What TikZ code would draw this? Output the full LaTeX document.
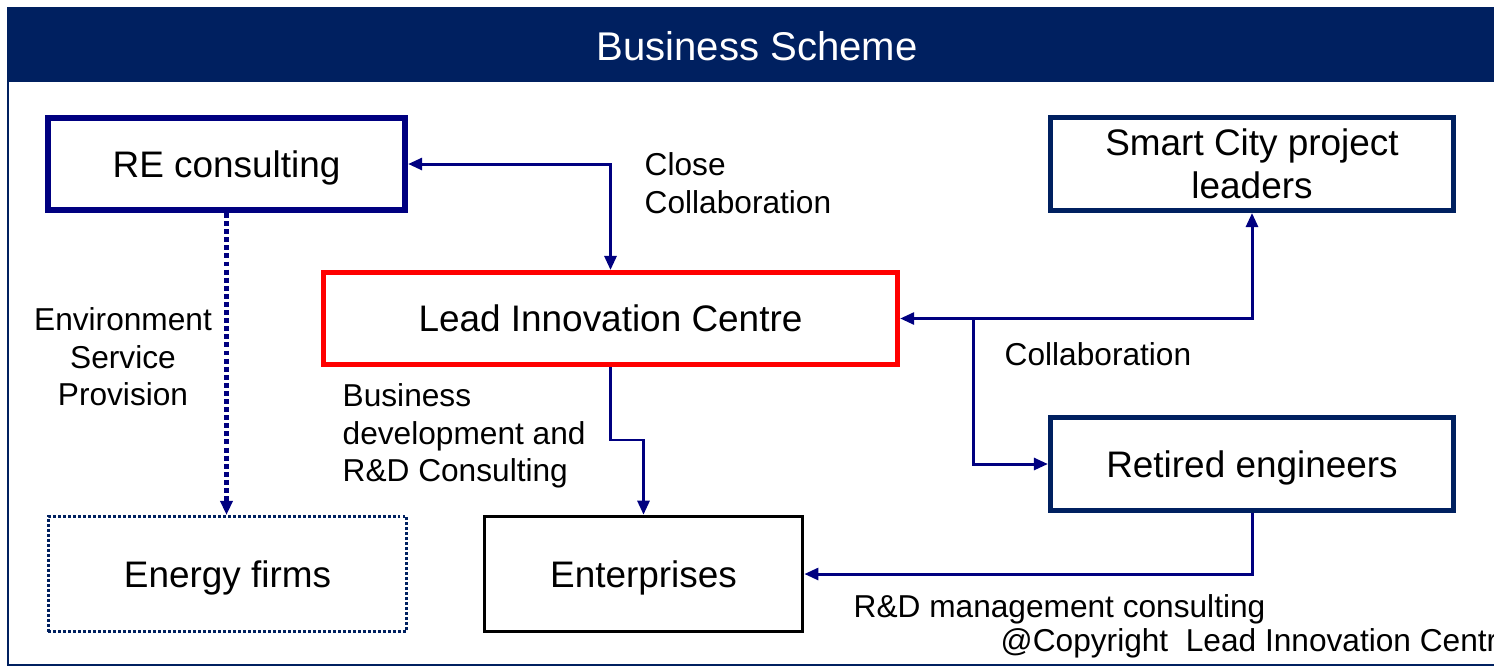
\documentclass[tikz,border=0pt]{standalone}
\usepackage{fontspec}
\setmainfont{Liberation Sans}
\usetikzlibrary{arrows.meta}
\definecolor{navybar}{HTML}{002060}
\definecolor{navyline}{HTML}{000080}

\begin{document}
\begin{tikzpicture}[x=0.01cm, y=-0.01cm]
    \tikzset{block/.style = {shape=rectangle, draw, align=center, inner sep=0pt, font=\fontsize{10.5}{12.2}\selectfont}}
    \tikzset{oneline/.style = {text height=0.95em, text depth=0.2em}}
    \tikzset{edge/.style = {draw=navyline, line width=0.85pt}}
    \tikzset{note/.style = {anchor=north west, inner sep=0pt, align=left, font=\fontsize{9}{10.7}\selectfont}}
    \tikzset{>={Triangle[length=4pt, width=3.4pt]}}

    % frame
    \useasboundingbox (0,0) rectangle (1494,669);
    \clip (0,0) rectangle (1494,669);
    \fill[navybar] (8,8) rectangle (1520,82);
    \draw[navybar, line width=0.6pt] (8,8) rectangle (1520,665);
    \node[text=white, font=\fontsize{11.4}{13}\selectfont] (title) at (757,46) {Business Scheme};

    % vertices
    \node[block, oneline, draw=navyline, line width=1.7pt, minimum width=3.57cm, minimum height=0.92cm] (re) at (226.5,164) {RE consulting};
    \node[block, draw=navybar, line width=1.4pt, minimum width=4.03cm, minimum height=0.93cm] (smart) at (1252,164) {Smart City project\\leaders};
    \node[block, oneline, draw=red, line width=1.4pt, minimum width=5.74cm, minimum height=0.92cm] (lic) at (610.5,318.5) {Lead Innovation Centre};
    \node[block, oneline, draw=navybar, line width=1.4pt, minimum width=4.03cm, minimum height=0.93cm] (retired) at (1252,464) {Retired engineers};
    \node[block, oneline, draw=navybar, line width=0.85pt, dash pattern=on 0.85pt off 0.57pt, minimum width=3.58cm, minimum height=1.15cm] (energy) at (227.5,574) {Energy firms};
    \node[block, oneline, draw=black, line width=1pt, minimum width=3.18cm, minimum height=1.15cm] (ent) at (643.5,574) {Enterprises};
    \coordinate (split) at (973,318.5);

    % edges
    \draw[edge, <->] (re.east) -| (lic.north);
    \draw[edge, <->] (lic.east) -| (smart.south);
    \draw[edge, ->] (split) |- (retired.west);
    \draw[edge, ->, line width=1.2pt, dash pattern=on 1.4pt off 0.9pt] (re.south) -- (re.south |- energy.north);
    \draw[edge, ->] (lic.south) -- ++(0,73) -| (ent.north);
    \draw[edge, ->] (retired.south) |- (ent.east);

    % labels
    \node[note] (closelbl) at (644,152) {Close\\Collaboration};
    \node[note] (collablbl) at (1004,342) {Collaboration};
    \node[note, anchor=north, align=center] (envlbl) at (123,307) {Environment\\Service\\Provision};
    \node[note] (buslbl) at (342,383) {Business\\development and\\R\&D Consulting};
    \node[note] (rdlbl) at (853,594) {R\&D management consulting};
    \node[note] (copylbl) at (1000,628) {@Copyright\ \ Lead Innovation Centre};
\end{tikzpicture}
\end{document}
